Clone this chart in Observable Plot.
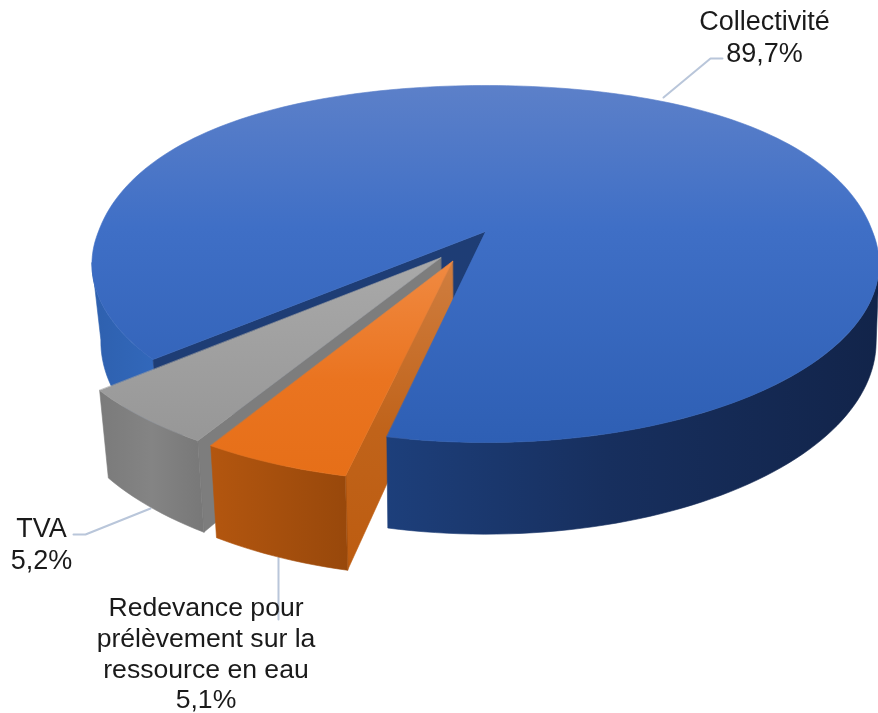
<!DOCTYPE html>
<html lang="fr">
<head>
<meta charset="utf-8">
<script src="https://cdn.jsdelivr.net/npm/d3@7"></script>
<script src="https://cdn.jsdelivr.net/npm/@observablehq/plot@0.6"></script>
<style>
html,body{margin:0;padding:0;background:#fff}
svg{display:block;filter:blur(0.35px)}
</style>
</head>
<body>
<div id="chart"></div>
<script>
// Data
const categories = ["Redevance pour\nprélèvement sur la\nressource en eau", "TVA", "Collectivité"];
const shares = [5.1, 5.2, 89.7];
const exploded = [0.18, 0.18, 0];
const nudgeU = [-0.017, 0.003, 0];
const nudgeV = [0, 0.01, 0];

// Pie layout (angles clockwise on screen from the front of the disc)
const firstAngle = 12.1;
let acc = firstAngle;
const slices = shares.map((s, i) => {
  const a0 = acc; acc += s * 3.6;
  return {name: categories[i], share: s, a0, a1: acc, e: exploded[i], r: exploded[i] ? 0.98 : 1, nu: nudgeU[i], nv: nudgeV[i]};
});
const [orange, grey, blue] = slices;

// Projection of the tilted disc into the plot scales
const cx = 485, cy = 231, rx = 387, ry = 172.6, k = 0.182, depth = 75;
const rad = d => d * Math.PI / 180;
function P(u, v, low) {
  const w = 1 - k * v;
  let x = cx + rx * u / w;
  let y = cy + (ry * v + (low ? depth : 0)) / w;
  if (v < 0) y -= 24 * (-v) * (1 + v);
  if (low) x = x < 385 ? x + (385 - x) * 0.027 + 1 : x - (x - 385) * 0.008 + 1;
  return {x, y};
}
function offset(s) {
  const m = rad((s.a0 + s.a1) / 2);
  return [-Math.sin(m) * s.e + s.nu, Math.cos(m) * s.e + s.nv];
}
function rim(s, a, low) {
  const [ox, oy] = offset(s);
  return P(-Math.sin(rad(a)) * s.r + ox, Math.cos(rad(a)) * s.r + oy, low);
}
function apex(s, low) { const [ox, oy] = offset(s); return P(ox, oy, low); }
function arc(s, a, b, low) {
  const n = Math.max(2, Math.ceil(Math.abs(b - a) / 1.5));
  return d3.range(n + 1).map(i => rim(s, a + (b - a) * i / n, low));
}
const topFace = s => [apex(s), ...arc(s, s.a0, s.a1)];
const outerWall = (s, a, b) => [...arc(s, a, b), ...arc(s, b, a, true)];
const radialWall = (s, a) => [apex(s), rim(s, a), rim(s, a, true), apex(s, true)];

// Gradient paints
function gradient(id, x1, y1, x2, y2, stops) {
  return `<linearGradient id="${id}" gradientUnits="userSpaceOnUse" x1="${x1}" y1="${y1}" x2="${x2}" y2="${y2}">` +
    stops.map(([o, c]) => `<stop offset="${o}" stop-color="${c}"/>`).join("") + `</linearGradient>`;
}
const defs = () => {
  const g = document.createElementNS("http://www.w3.org/2000/svg", "g");
  g.innerHTML = "<defs>" +
    gradient("blueTop", 0, 85, 0, 442, [[0, "#5c80c9"], [0.4, "#3f6fc6"], [1, "#2e5fb4"]]) +
    gradient("blueFront", 385, 0, 878, 0, [[0, "#1d3f7b"], [0.45, "#172f5e"], [1, "#12244a"]]) +
    gradient("blueLeft", 90, 0, 155, 0, [[0, "#2e60ae"], [1, "#3268bb"]]) +
    gradient("greyTop", 0, 257, 0, 440, [[0, "#a9a9a9"], [1, "#979797"]]) +
    gradient("greyOuter", 97, 0, 205, 0, [[0, "#7a7a7a"], [0.5, "#848484"], [1, "#777777"]]) +
    gradient("orangeTop", 0, 260, 0, 476, [[0, "#f08a42"], [0.55, "#ea7420"], [1, "#e66f18"]]) +
    gradient("orangeOuter", 210, 0, 347, 0, [[0, "#b3560f"], [1, "#98480b"]]) +
    gradient("orangeSide", 0, 260, 0, 570, [[0, "#d07e40"], [0.55, "#c0631a"], [1, "#bd5c10"]]) +
    "</defs>";
  return g;
};

const face = (pts, fill) => Plot.line(pts, {x: "x", y: "y", fill, stroke: fill, strokeWidth: 0.6, curve: "linear-closed"});

// Leader lines
const leaders = [
  [{x: 663, y: 97}, {x: 710, y: 58}, {x: 722, y: 58}],
  [{x: 150, y: 508}, {x: 85, y: 534}, {x: 73, y: 534}],
  [{x: 278, y: 557}, {x: 278, y: 619}]
];
// Label anchors
const labelAnchors = [{x: 205.5, y: 652}, {x: 41, y: 542}, {x: 764, y: 35}];
const fr = v => v.toFixed(1).replace(".", ",") + "%";
const labelRows = slices.map((s, i) => ({...labelAnchors[i], text: `${s.name}\n${fr(s.share)}`, tall: s.name.includes("\n")}));
const textStyle = {x: "x", y: "y", text: "text", fill: "#1a1a1a", fontFamily: "Liberation Sans, Arial, sans-serif", textAnchor: "middle"};

const chart = Plot.plot({
  width: 878, height: 713,
  margin: 0,
  style: {background: "#fff", overflow: "hidden"},
  x: {domain: [0, 878], range: [0, 878], axis: null},
  y: {domain: [0, 713], range: [0, 713], axis: null},
  marks: [
    defs,
    ...leaders.map(l => Plot.line(l, {x: "x", y: "y", stroke: "#b9c6da", strokeWidth: 2})),
    face(outerWall(blue, blue.a0, 80), "url(#blueLeft)"),
    face(radialWall(blue, blue.a0), "#1e3d75"),
    face(radialWall(grey, grey.a0), "#7d7d7d"),
    face(outerWall(grey, grey.a0, grey.a1), "url(#greyOuter)"),
    face(topFace(grey), "url(#greyTop)"),
    face(radialWall(orange, orange.a0), "url(#orangeSide)"),
    face(outerWall(orange, orange.a0, orange.a1), "url(#orangeOuter)"),
    face(topFace(orange), "url(#orangeTop)"),
    face(outerWall(blue, 281, blue.a1), "url(#blueFront)"),
    face(topFace(blue), "url(#blueTop)"),
    Plot.text(labelRows.filter(d => !d.tall), {...textStyle, fontSize: 27, lineHeight: 1.185}),
    Plot.text(labelRows.filter(d => d.tall), {...textStyle, fontSize: 26.6, lineHeight: 1.15})
  ]
});
document.getElementById("chart").append(chart);
</script>
</body>
</html>
